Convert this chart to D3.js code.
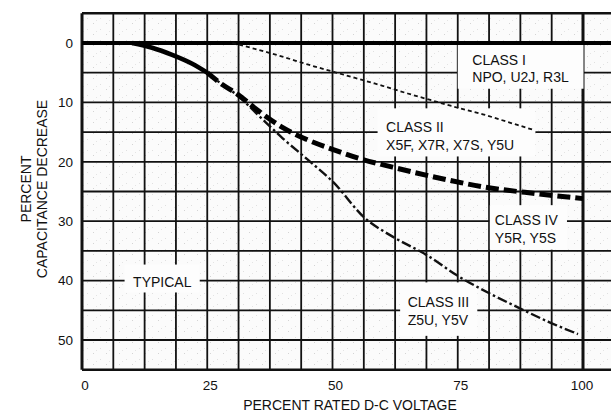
<!DOCTYPE html>
<html><head><meta charset="utf-8">
<script src="https://cdn.jsdelivr.net/npm/d3@7"></script>
<style>
html,body{margin:0;padding:0;background:#fff;}
svg{display:block;}
text{font-family:"Liberation Sans",Arial,Helvetica,sans-serif;fill:#111;}
</style></head>
<body>
<svg id="chart" width="611" height="412"></svg>
<script>
// ---- data (percent rated DC voltage -> percent capacitance decrease) ----
const xTicks = [0, 25, 50, 75, 100];
const yTicks = [0, 10, 20, 30, 40, 50];
const classIVolt = [30, 35, 40, 45, 50, 55, 60, 65, 70, 75, 80, 85, 90];
const classIDec  = [0, 1.1, 2.3, 3.6, 4.8, 6.0, 7.2, 8.5, 9.7, 10.9, 12.0, 13.3, 14.6];
const classIIVolt = [10, 14, 18, 22, 25, 28, 31, 35, 40, 45, 50, 56, 62, 70, 80, 90, 100];
const classIIDec  = [0, 0.8, 2.0, 3.5, 5.0, 7.0, 8.6, 11.3, 14.2, 16.3, 17.9, 19.6, 20.9, 22.5, 24.2, 25.3, 26.2];
const classIIIVolt = [25, 28, 31, 35, 40, 45, 50, 56.5, 62, 69, 75, 81, 87, 93, 99];
const classIIIDec  = [5.0, 7.0, 8.8, 12.0, 16.0, 19.6, 23.3, 29.5, 32.6, 35.8, 39.2, 42.0, 44.5, 46.9, 49.0];
const baseVolt = [0, 106];
const baseDec = [0, 0];
const labels = [
  {lines:["CLASS I","NPO, U2J, R3L"], box:[75,100.1,0.2,7.7], x:77.9, y:[3.7,6.6]},
  {lines:["CLASS II","X5F, X7R, X7S, Y5U"], box:[59,90.5,11,19.1], x:60.7, y:[15,18]},
  {lines:["CLASS IV","Y5R, Y5S"], box:[81.4,96.8,27.3,34.8], x:82.4, y:[30.6,33.6]},
  {lines:["CLASS III","Z5U, Y5V"], box:[63.5,78.9,40.3,49.3], x:65, y:[44.4,47.4]},
  {lines:["TYPICAL"], box:[8.5,23.5,37.3,42.0], x:10.2, y:[41.1]}
];

const svg = d3.select("#chart");
const x = d3.scaleLinear().domain([0, 100]).range([82, 583]);
const y = d3.scaleLinear().domain([0, 50]).range([43, 340]);
const xMaxDomain = 106.25, yMin = -5, yMax = 55;

// background with light speckle
const defs = svg.append("defs");
const pat = defs.append("pattern").attr("id","speck").attr("width",13).attr("height",11)
  .attr("patternUnits","userSpaceOnUse");
pat.append("rect").attr("width",13).attr("height",11).attr("fill","#fbfbfb");
pat.append("rect").attr("x",2).attr("y",1).attr("width",1).attr("height",1).attr("fill","#d4d4d4");
pat.append("rect").attr("x",9).attr("y",7).attr("width",1).attr("height",1).attr("fill","#e0e0e0");
pat.append("rect").attr("x",5).attr("y",9).attr("width",1).attr("height",1).attr("fill","#e4e4e4");
svg.append("rect").attr("x", x(0)).attr("y", y(yMin)).attr("width", 611 - x(0))
  .attr("height", y(yMax) - y(yMin)).attr("fill", "url(#speck)");

// grid
const g = svg.append("g").attr("stroke","#111");
const vLines = d3.range(0, xMaxDomain + 0.01, 6.25);
g.selectAll(".v").data(vLines).join("line")
  .attr("x1", d => x(d)).attr("x2", d => x(d))
  .attr("y1", y(yMin)).attr("y2", y(yMax))
  .attr("stroke-width", d => (d === 0 || d === 100) ? 3 : 1.8);
const hLines = d3.range(yMin, yMax + 0.01, 5);
g.selectAll(".h").data(hLines).join("line")
  .attr("x1", x(0)).attr("x2", 611)
  .attr("y1", d => y(d)).attr("y2", d => y(d))
  .attr("stroke-width", d => (d === yMin || d === yMax) ? 2.6 : 1.8);

// label boxes (white knockouts)
svg.append("g").selectAll("rect").data(labels).join("rect")
  .attr("x", d => x(d.box[0])).attr("y", d => y(d.box[2]))
  .attr("width", d => x(d.box[1]) - x(d.box[0]))
  .attr("height", d => y(d.box[3]) - y(d.box[2]))
  .attr("fill", "#fdfdfd");

// base line at 0
const line = d3.line().x(d => x(d[0])).y(d => y(d[1])).curve(d3.curveMonotoneX);
svg.append("path").datum(d3.zip(baseVolt, baseDec)).attr("d", line)
  .attr("fill","none").attr("stroke","#000").attr("stroke-width",4.2);

// class I (short dashes)
svg.append("path").datum(d3.zip(classIVolt, classIDec)).attr("d", line)
  .attr("fill","none").attr("stroke","#111").attr("stroke-width",1.8)
  .attr("stroke-dasharray","4,3");

// class III (dash-dot)
svg.append("path").datum(d3.zip(classIIIVolt, classIIIDec)).attr("d", line)
  .attr("fill","none").attr("stroke","#111").attr("stroke-width",2.4)
  .attr("stroke-dasharray","10,3,2.5,3");

// class II: solid start then heavy dashes
const c2 = d3.zip(classIIVolt, classIIDec);
svg.append("path").datum(c2.filter(d => d[0] <= 25)).attr("d", line)
  .attr("fill","none").attr("stroke","#000").attr("stroke-width",4.5);
svg.append("path").datum(c2.filter(d => d[0] >= 25)).attr("d", line)
  .attr("fill","none").attr("stroke","#000").attr("stroke-width",5)
  .attr("stroke-dasharray","13,5");

// label texts
const lt = svg.append("g").attr("font-size", 14);
labels.forEach(l => {
  l.lines.forEach((s, i) => {
    lt.append("text").attr("x", x(l.x)).attr("y", y(l.y[i])).text(s);
  });
});

// tick labels
svg.append("g").selectAll("text").data(yTicks).join("text")
  .attr("x", 73).attr("y", d => y(d)).attr("dy","0.36em")
  .attr("text-anchor","end").attr("font-size",13.5).attr("fill","#222").text(d => d);
svg.append("g").selectAll("text").data(xTicks).join("text")
  .attr("x", d => x(d) + (d === 100 ? -1 : 3)).attr("y", 390)
  .attr("text-anchor","middle").attr("font-size",13.5).attr("fill","#222").text(d => d);

// axis titles
svg.append("text").attr("x", 350).attr("y", 410).attr("text-anchor","middle")
  .attr("font-size",14).attr("fill","#222").text("PERCENT RATED D-C VOLTAGE");
const yt = svg.append("g").attr("transform","translate(0,189) rotate(-90)");
yt.append("text").attr("x",0).attr("y",31).attr("text-anchor","middle")
  .attr("font-size",14).attr("fill","#222").text("PERCENT");
yt.append("text").attr("x",0).attr("y",47).attr("text-anchor","middle")
  .attr("font-size",14).attr("fill","#222").text("CAPACITANCE DECREASE");
</script>
</body></html>
